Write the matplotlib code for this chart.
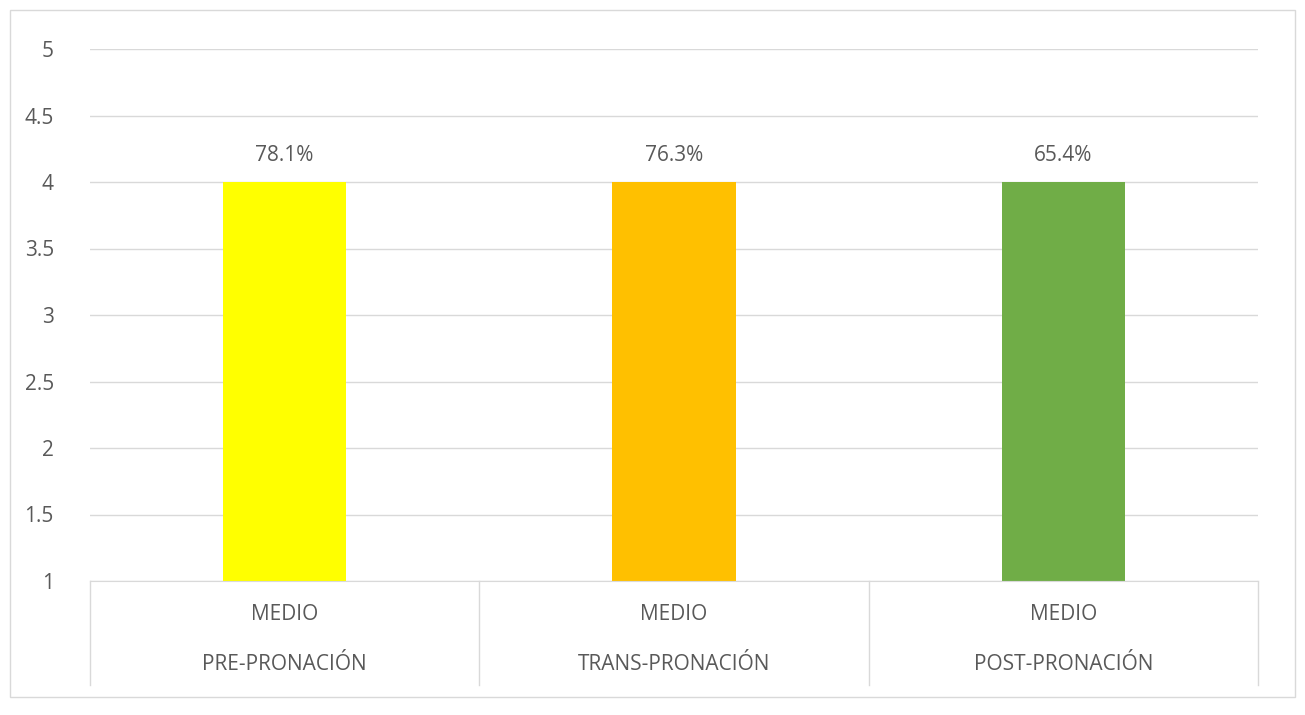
import matplotlib
matplotlib.use("Agg")
import matplotlib.pyplot as plt
from matplotlib.patches import Rectangle
from matplotlib.lines import Line2D

groups = ["PRE-PRONACIÓN", "TRANS-PRONACIÓN", "POST-PRONACIÓN"]
levels = ["MEDIO", "MEDIO", "MEDIO"]
values = [4, 4, 4]
labels = ["78.1%", "76.3%", "65.4%"]
colors = ["#FFFF00", "#FFC000", "#70AD47"]
yticks = [1, 1.5, 2, 2.5, 3, 3.5, 4, 4.5, 5]

plt.rcParams["font.family"] = "Open Sans"
txt = "#595959"
fs = 15
W, H = 1305, 715
fig = plt.figure(figsize=(W / 100, H / 100), dpi=100)
fig.patches.append(Rectangle((10 / W, 1 - 697 / H), 1285 / W, 687 / H,
                             transform=fig.transFigure, fill=False,
                             edgecolor="#D9D9D9", linewidth=1))

x0, x1, ytop, ybot = 90, 1258, 49, 581
ax = fig.add_axes([x0 / W, 1 - ybot / H, (x1 - x0) / W, (ybot - ytop) / H])
n = len(groups)
xs = list(range(n))
ax.bar(xs, [v - 1 for v in values], bottom=1, width=0.316, color=colors)
for x, v, l in zip(xs, values, labels):
    ax.text(x, v + 0.12, l, ha="center", va="bottom", fontsize=fs, color=txt)
ax.set_xlim(-0.5, n - 0.5)
ax.set_ylim(1, 5)
ax.set_yticks(yticks)
ax.set_yticklabels([f"{t:g}" for t in yticks], fontsize=fs, color=txt)
ax.yaxis.grid(True, color="#D9D9D9", linewidth=1)
ax.set_axisbelow(True)
ax.tick_params(axis="y", length=0, pad=26)
ax.set_xticks([])
for s in ["top", "right", "left"]:
    ax.spines[s].set_visible(False)
ax.spines["bottom"].set_color("#D9D9D9")

# category axis separators and labels
for i in range(n + 1):
    xf = (x0 + i * (x1 - x0) / n) / W
    fig.add_artist(Line2D([xf, xf], [1 - ybot / H, 1 - 685 / H],
                          transform=fig.transFigure, color="#D9D9D9", linewidth=1))
for i in range(n):
    xc = (x0 + (i + 0.5) * (x1 - x0) / n) / W
    fig.text(xc, 1 - 614 / H, levels[i], ha="center", va="center", fontsize=fs, color=txt)
    fig.text(xc, 1 - 665 / H, groups[i], ha="center", va="center", fontsize=fs, color=txt)

fig.savefig("out.png", dpi=100)
